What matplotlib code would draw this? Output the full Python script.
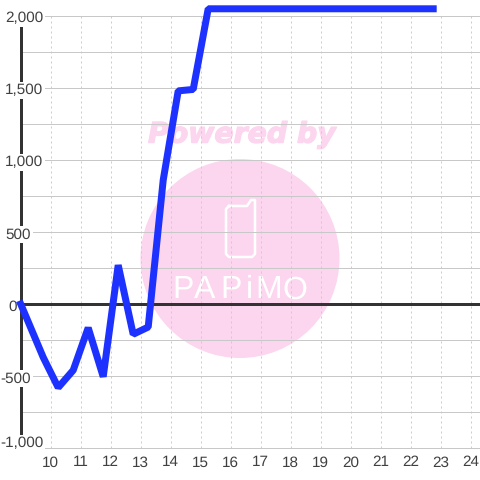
import matplotlib
matplotlib.use("Agg")
import matplotlib.pyplot as plt
import matplotlib.patheffects as pe
from matplotlib.patches import Ellipse
import numpy as np

hours = [9.0, 9.75, 10.25, 10.75, 11.25, 11.75, 12.25, 12.75, 13.25, 13.75, 14.25,
         14.75, 15.25, 15.75, 16.25, 16.75, 17.25, 17.75, 18.25, 18.75, 19.25,
         19.75, 20.25, 20.75, 21.25, 21.75, 22.25, 22.75]
values = [0, -370, -580, -460, -165, -505, 270, -210, -160, 860, 1480,
          1490, 2050, 2050, 2050, 2050, 2050, 2050, 2050, 2050, 2050,
          2050, 2050, 2050, 2050, 2050, 2050, 2050]
x_ticks = list(range(10, 25))
y_grid = list(range(-1000, 2001, 250))
y_labels = {2000: "2,000", 1500: "1,500", 1000: "1,000", 500: "500",
            0: "0", -500: "-500", -1000: "-1,000"}

plt.rcParams["font.family"] = ["Liberation Sans", "DejaVu Sans"]
plt.rcParams["text.hinting"] = "none"

PX = 0.72  # one pixel in points at dpi 100
PINK = "#fcd5ee"
DARK = "#333333"
TEXT = "#404040"


def px(x, y):
    return x / 480, 1 - y / 480


fig = plt.figure(figsize=(4.8, 4.8), dpi=100)
ax = fig.add_axes([0, 0, 1, 1])
ax.set_xlim(8.31, 24.31)
ax.set_ylim(-1222, 2111)
ax.axis("off")

# watermark
ax.add_patch(Ellipse(px(240, 258.5), 199 / 480, 199 / 480, transform=ax.transAxes,
                     fc=PINK, ec="none", zorder=1))
ax.text(*px(242, 135), "Powered by", transform=ax.transAxes, color=PINK,
        family="DejaVu Sans", weight="bold", style="oblique", fontsize=20.4,
        ha="center", va="center", zorder=1,
        path_effects=[pe.withStroke(linewidth=0.9, foreground=PINK)])

phone = [px(229, 206), px(247, 206), px(251, 200), px(255, 200), px(255, 254),
         px(252, 257), px(229, 257), px(226, 254), px(226, 209), px(229, 206)]
ax.plot(*zip(*phone), transform=ax.transAxes, color="white", lw=2.6 * PX,
        solid_joinstyle="round", zorder=1.1)
for letter, cx in zip("PAPiMO", [183, 205, 231, 249, 269, 295]):
    ax.text(*px(cx, 290), letter, transform=ax.transAxes, color="white", fontsize=23,
            ha="center", va="center", zorder=1.1)

# grid
ax.vlines(x_ticks, -1000, 2000, color="#cccccc", lw=1 * PX, linestyles=(0, (2, 3)), zorder=2)
ax.hlines(y_grid, 9, 24.31, color="#c8c8c8", lw=1 * PX, zorder=2)

# axes lines
ax.vlines(9, -1000, 2000, color=DARK, lw=3 * PX, zorder=3)
ax.hlines(0, 9, 24.31, color=DARK, lw=3 * PX, zorder=3)

# labels
right_edge = {2000: 43, 1500: 43, 1000: 43, 500: 31, 0: 17, -500: 31, -1000: 43}
for v, lab in y_labels.items():
    shift = 6 if v == -1000 else -1
    ax.annotate(lab, xy=(9, v), xytext=(right_edge[v] - 20.5, shift), textcoords="offset pixels",
                ha="right", va="center_baseline", fontsize=11, color=TEXT, zorder=4,
                bbox=dict(boxstyle="square,pad=0.1", fc="white", ec="none"))
for t in x_ticks:
    ax.annotate(str(t), xy=(t, -1000), xytext=(0, -13), textcoords="offset pixels",
                ha="center", va="center_baseline", fontsize=11, color=TEXT, zorder=4)

ax.plot(hours, values, color="#1e32ff", lw=7 * PX, solid_capstyle="projecting",
        solid_joinstyle="bevel", zorder=5)

fig.savefig("out.png", dpi=100)
